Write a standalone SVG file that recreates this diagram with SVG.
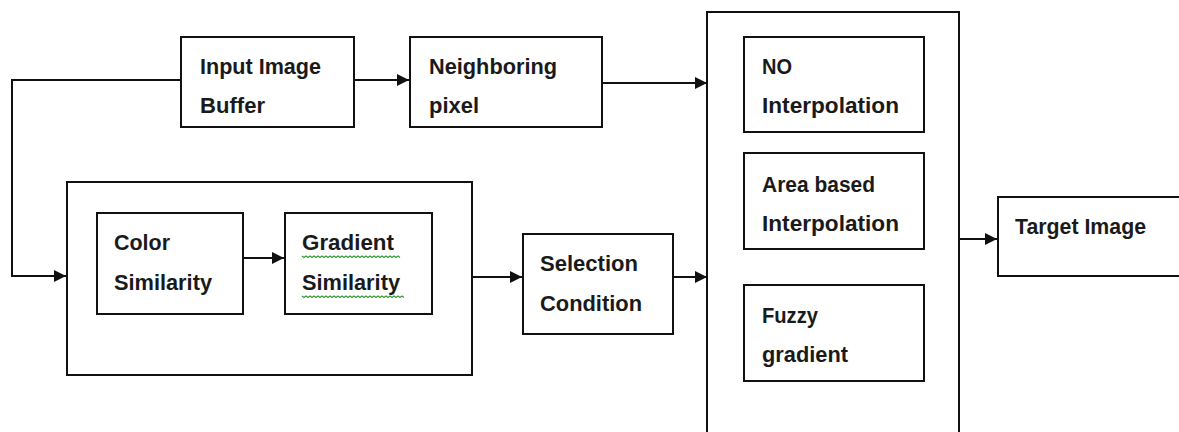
<svg xmlns="http://www.w3.org/2000/svg" width="1179" height="432" viewBox="0 0 1179 432">
<style>
.box{fill:#fff;stroke:#111;stroke-width:2}
.cont{fill:none;stroke:#111;stroke-width:2}
.t{font-family:"Liberation Sans",Arial,sans-serif;font-size:22px;font-weight:bold;fill:#1a1a1a;lengthAdjust:spacingAndGlyphs}
.c{fill:none;stroke:#111;stroke-width:2}
.sq{fill:none;stroke:#3a9a3a;stroke-width:1.2}
</style>
<defs>
<marker id="ah" viewBox="0 0 12 12" refX="12" refY="6" markerWidth="12" markerHeight="12" markerUnits="userSpaceOnUse" orient="auto">
<path d="M0,0 L12,6 L0,12 Z" fill="#111"/>
</marker>
</defs>
<rect width="1179" height="432" fill="#fff"/>
<g id="group-similarity"><rect class="cont" x="67" y="182" width="405" height="193"/></g>
<g id="group-interpolation"><rect class="cont" x="707" y="12" width="252" height="430"/></g>
<g id="connectors">
<path class="c" d="M181,80 H12 V276 H66" marker-end="url(#ah)"/>
<path class="c" d="M354,80 H409" marker-end="url(#ah)"/>
<path class="c" d="M602,83 H707" marker-end="url(#ah)"/>
<path class="c" d="M243,258 H284" marker-end="url(#ah)"/>
<path class="c" d="M472,277 H522" marker-end="url(#ah)"/>
<path class="c" d="M673,277 H707" marker-end="url(#ah)"/>
<path class="c" d="M959,239 H997" marker-end="url(#ah)"/>
</g>
<g id="input-image-buffer"><rect class="box" x="181" y="37" width="173" height="90"/>
<text class="t" x="200" y="74" textLength="121" lengthAdjust="spacingAndGlyphs">Input Image</text>
<text class="t" x="200" y="113" textLength="65" lengthAdjust="spacingAndGlyphs">Buffer</text></g>
<g id="neighboring-pixel"><rect class="box" x="410" y="37" width="192" height="90"/>
<text class="t" x="429" y="74" textLength="128" lengthAdjust="spacingAndGlyphs">Neighboring</text>
<text class="t" x="429" y="113" textLength="50" lengthAdjust="spacingAndGlyphs">pixel</text></g>
<g id="no-interpolation"><rect class="box" x="744" y="37" width="180" height="95"/>
<text class="t" x="762" y="74" textLength="30" lengthAdjust="spacingAndGlyphs">NO</text>
<text class="t" x="762" y="113" textLength="137" lengthAdjust="spacingAndGlyphs">Interpolation</text></g>
<g id="area-based-interpolation"><rect class="box" x="744" y="153" width="180" height="96"/>
<text class="t" x="762" y="192" textLength="113" lengthAdjust="spacingAndGlyphs">Area based</text>
<text class="t" x="762" y="231" textLength="137" lengthAdjust="spacingAndGlyphs">Interpolation</text></g>
<g id="fuzzy-gradient"><rect class="box" x="744" y="285" width="180" height="96"/>
<text class="t" x="762" y="323" textLength="56" lengthAdjust="spacingAndGlyphs">Fuzzy</text>
<text class="t" x="762" y="362" textLength="86" lengthAdjust="spacingAndGlyphs">gradient</text></g>
<g id="target-image"><rect class="box" x="998" y="197" width="190" height="79"/>
<text class="t" x="1015" y="234" textLength="131" lengthAdjust="spacingAndGlyphs">Target Image</text></g>
<g id="color-similarity"><rect class="box" x="97" y="213" width="146" height="101"/>
<text class="t" x="114" y="250" textLength="56" lengthAdjust="spacingAndGlyphs">Color</text>
<text class="t" x="114" y="290" textLength="98" lengthAdjust="spacingAndGlyphs">Similarity</text></g>
<g id="gradient-similarity"><rect class="box" x="285" y="213" width="147" height="101"/>
<text class="t" x="302" y="250" textLength="92" lengthAdjust="spacingAndGlyphs">Gradient</text>
<text class="t" x="302" y="290" textLength="98" lengthAdjust="spacingAndGlyphs">Similarity</text>
<path class="sq" d="M302,256 l2,1.5 l2,-1.5 l2,1.5 l2,-1.5 l2,1.5 l2,-1.5 l2,1.5 l2,-1.5 l2,1.5 l2,-1.5 l2,1.5 l2,-1.5 l2,1.5 l2,-1.5 l2,1.5 l2,-1.5 l2,1.5 l2,-1.5 l2,1.5 l2,-1.5 l2,1.5 l2,-1.5 l2,1.5 l2,-1.5 l2,1.5 l2,-1.5 l2,1.5 l2,-1.5 l2,1.5 l2,-1.5 l2,1.5 l2,-1.5 l2,1.5 l2,-1.5 l2,1.5 l2,-1.5 l2,1.5 l2,-1.5 l2,1.5 l2,-1.5 l2,1.5 l2,-1.5 l2,1.5 l2,-1.5 l2,1.5 l2,-1.5 l2,1.5 l2,-1.5 l2,1.5"/>
<path class="sq" d="M302,296 l2,1.5 l2,-1.5 l2,1.5 l2,-1.5 l2,1.5 l2,-1.5 l2,1.5 l2,-1.5 l2,1.5 l2,-1.5 l2,1.5 l2,-1.5 l2,1.5 l2,-1.5 l2,1.5 l2,-1.5 l2,1.5 l2,-1.5 l2,1.5 l2,-1.5 l2,1.5 l2,-1.5 l2,1.5 l2,-1.5 l2,1.5 l2,-1.5 l2,1.5 l2,-1.5 l2,1.5 l2,-1.5 l2,1.5 l2,-1.5 l2,1.5 l2,-1.5 l2,1.5 l2,-1.5 l2,1.5 l2,-1.5 l2,1.5 l2,-1.5 l2,1.5 l2,-1.5 l2,1.5 l2,-1.5 l2,1.5 l2,-1.5 l2,1.5 l2,-1.5 l2,1.5 l2,-1.5 l2,1.5"/></g>
<g id="selection-condition"><rect class="box" x="523" y="234" width="150" height="100"/>
<text class="t" x="540" y="271" textLength="98" lengthAdjust="spacingAndGlyphs">Selection</text>
<text class="t" x="540" y="311" textLength="102" lengthAdjust="spacingAndGlyphs">Condition</text></g>
</svg>
